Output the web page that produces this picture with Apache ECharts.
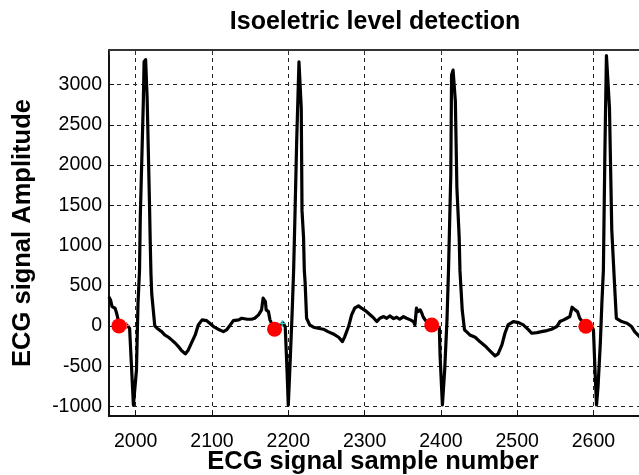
<!DOCTYPE html>
<html>
<head>
<meta charset="utf-8">
<script src="https://cdn.jsdelivr.net/npm/echarts@6/dist/echarts.min.js"></script>
<style>
  html, body { margin: 0; padding: 0; background: #fff; }
  #chart { width: 639px; height: 475px; }
</style>
</head>
<body>
<div id="chart"></div>
<script>
// ECG trace: sample number and amplitude
const sampleNumbers = [
  1965, 1967, 1969, 1973, 1975, 1977, 1978, 1983, 1988, 1992, 1997, 2001, 2003, 2005,
  2006, 2010, 2011, 2013, 2015, 2018, 2019, 2020, 2021, 2025, 2028, 2034, 2038, 2043,
  2047, 2052, 2056, 2060, 2065, 2069, 2073, 2078, 2082, 2087, 2093, 2097, 2102, 2108,
  2115, 2119, 2124, 2128, 2135, 2139, 2146, 2152, 2156, 2161, 2165, 2167, 2170, 2171,
  2174, 2176, 2179, 2182, 2189, 2193, 2196, 2198, 2200, 2202, 2205, 2207, 2209, 2211,
  2214, 2215, 2217, 2218, 2220, 2221, 2222, 2224, 2228, 2233, 2239, 2246, 2252, 2259,
  2266, 2271, 2274, 2279, 2283, 2287, 2292, 2296, 2301, 2305, 2311, 2316, 2320, 2325,
  2329, 2333, 2338, 2342, 2346, 2351, 2355, 2360, 2364, 2366, 2368, 2370, 2373, 2375,
  2377, 2381, 2388, 2394, 2398, 2399, 2402, 2405, 2408, 2410, 2413, 2414, 2416, 2419,
  2421, 2424, 2425, 2428, 2431, 2438, 2445, 2451, 2458, 2464, 2471, 2475, 2480, 2484,
  2488, 2495, 2502, 2508, 2515, 2519, 2526, 2532, 2539, 2545, 2552, 2556, 2561, 2565,
  2569, 2572, 2576, 2579, 2582, 2590, 2598, 2600, 2602, 2604, 2606, 2609, 2611, 2613,
  2615, 2617, 2619, 2621, 2624, 2628, 2630, 2637, 2644, 2650, 2654, 2661
];
const amplitude = [
   360,  323,  240,  220,  158,   75,    0,   10,   12,  -29, -985, -548,  277,  690,
  1347, 2790, 3284, 3310, 2830, 1554, 1060,  650,  400,    0,  -29,  -71, -112, -141,
  -174, -215, -257, -306, -348, -299, -215, -112,   12,   75,   66,   33,   -8,  -41,
   -71,  -50,   12,   66,   75,   95,   83,   83,   95,  137,  199,  345,  302,  199,
   178,   75,   12,  -40,    9,   37,  -12, -465, -985, -548,  153,  690, 1471, 2295,
  3284, 3295, 2707, 1430, 1100,  690,  550,   95,   12,  -16,  -29,  -41,  -71, -100,
  -141, -195, -133,   -8,  137,  220,  249,  220,  191,  158,  108,   54,   95,  116,
    95,  124,   91,  108,   83,  116,   95,   75,   54,   12,  220,  178,  199,  158,
   108,   54,   12,   -8,  -29, -381, -983, -548,   70,  690, 1884, 3120, 3180, 2790,
  1718, 1100,  690,  194,  -50, -112, -141, -195, -249, -307, -373, -348, -236,  -91,
    12,   54,   41,   12,  -50,  -91,  -83,  -71,  -58,  -41,   -8,   54,   75,   95,
   116,  232,  199,  178,   95,   -5,   -8,  -50, -547, -983, -755, -215,  277,  690,
  2172, 3360, 3365, 2707, 1194,  448,   95,   54,   33,   -8,  -71, -140
];

// Detected isoelectric points
const isoSamples = [1978, 2182, 2388, 2590];
const isoLevels  = [0, -40, 12, -5];

// Wave onset markers drawn next to each isoelectric point
const onsetSamples = [1988, 2192, 2393, 2597];
const onsetLevels  = [5, 30, -15, 0];
const onsetColors  = ['#ff5a5a', '#33cccc', '#cc44cc', '#dddd55'];

// Axis ranges and text
const xRange = [1965, 2661];
const yRange = [-1120, 3430];
const titleText = 'Isoeletric level detection';
const xName = 'ECG signal sample number';
const yName = 'ECG signal Amplitude';

const FONT = '"Liberation Sans", Arial, Helvetica, sans-serif';

const chart = echarts.init(document.getElementById('chart'), null, { renderer: 'canvas' });

const trace = sampleNumbers.map((x, i) => [x, amplitude[i]]);
const iso = isoSamples.map((x, i) => [x, isoLevels[i]]);
const onsets = onsetSamples.map((x, i) => ({
  value: [x, onsetLevels[i]],
  itemStyle: { color: onsetColors[i], borderColor: onsetColors[i] }
}));

const gridDash = { color: '#222', width: 1, type: [4, 4] };
const plain = v => String(v);

// Bold caption helper for the title and the two axis names
function caption(text, x, y, size, rotation) {
  return {
    type: 'text',
    x: x, y: y,
    rotation: rotation || 0,
    style: {
      text: text,
      font: 'bold ' + size + 'px ' + FONT,
      fill: '#000',
      textAlign: 'center',
      textVerticalAlign: 'middle'
    }
  };
}

chart.setOption({
  animation: false,
  backgroundColor: '#ffffff',
  grid: {
    left: 109, top: 50, width: 531, height: 366,
    containLabel: false, outerBoundsMode: 'none'
  },
  graphic: [
    caption(titleText, 375, 22, 25),
    caption(xName, 373, 462, 25.5),
    caption(yName, 23, 233, 25.5, Math.PI / 2)
  ],
  xAxis: [{
    type: 'value',
    min: xRange[0], max: xRange[1],
    splitNumber: 7,
    position: 'bottom',
    axisLine: { show: true, onZero: false, lineStyle: { color: '#111', width: 2 } },
    axisTick: { show: true, inside: true, length: 5, lineStyle: { color: '#111' } },
    axisLabel: {
      fontFamily: FONT, fontSize: 19.5, color: '#000', margin: 16,
      showMinLabel: false, showMaxLabel: false, formatter: plain
    },
    splitLine: { show: true, lineStyle: gridDash }
  }, {
    type: 'value',
    min: xRange[0], max: xRange[1],
    splitNumber: 7,
    position: 'top',
    axisLine: { show: true, onZero: false, lineStyle: { color: '#333', width: 2 } },
    axisTick: { show: true, inside: true, length: 5, lineStyle: { color: '#333' } },
    axisLabel: { show: false },
    splitLine: { show: false }
  }],
  yAxis: {
    type: 'value',
    min: yRange[0], max: yRange[1],
    splitNumber: 9,
    axisLine: { show: true, onZero: false, lineStyle: { color: '#111', width: 2 } },
    axisTick: { show: true, inside: true, length: 5, lineStyle: { color: '#111' } },
    axisLabel: {
      fontFamily: FONT, fontSize: 19.5, color: '#000', margin: 7,
      showMinLabel: false, showMaxLabel: false, formatter: plain
    },
    splitLine: { show: true, lineStyle: gridDash }
  },
  series: [{
    name: 'ECG',
    type: 'line',
    data: trace,
    showSymbol: false,
    smooth: false,
    lineStyle: { color: '#000', width: 3.2, join: 'round' },
    z: 3
  }, {
    name: 'Onsets',
    type: 'scatter',
    data: onsets,
    symbol: 'path://M0,-4L0,4M-4,0L4,0',
    symbolSize: 7,
    itemStyle: { borderWidth: 1.2, opacity: 1 },
    z: 4
  }, {
    name: 'Isoelectric',
    type: 'scatter',
    data: iso,
    symbol: 'circle',
    symbolSize: 15,
    itemStyle: { color: '#ff0000', opacity: 1 },
    z: 5
  }]
});
</script>
</body>
</html>
